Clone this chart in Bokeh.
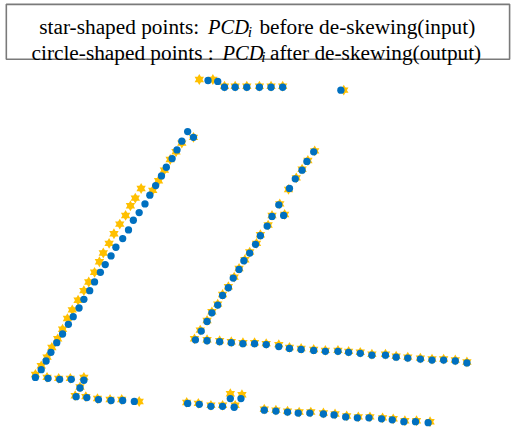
from bokeh.plotting import figure
from bokeh.models import ColumnDataSource, Range1d
from bokeh.core.properties import value
from bokeh.embed import file_html
from bokeh.resources import INLINE

# ---- data (point positions, pixel-like units, y downward) ----
# top short segment
top_star_x = [205, 219, 231, 242, 254, 267, 279, 291, 354]
top_star_y = [82, 82, 89, 89, 89, 89, 89, 89, 93]
top_circ_x = [214, 224, 231, 242, 254, 267, 279, 291, 351]
top_circ_y = [83, 84, 90, 90, 90, 90, 90, 90, 93]

# left long diagonal
left_circ_x = [193, 199, 187, 182, 177, 171, 166, 160, 154, 149, 143, 137, 132, 126, 119,
               114, 108, 103, 97, 92, 86, 81, 75, 70, 64, 58, 52, 47, 42, 36]
left_circ_y = [136, 142, 146, 155, 164, 173, 182, 192, 202, 211, 220, 228, 238, 247, 256,
               265, 274, 282, 292, 301, 310, 319, 328, 336, 346, 355, 365, 374, 383, 391]
left_star_x = [199, 187, 181, 175, 169, 163, 157, 145, 139, 134, 129, 123, 117, 112, 106,
               102, 97, 91, 86, 80, 74, 69, 64, 59, 53, 48, 42, 36]
left_star_y = [142, 148, 157, 165, 176, 187, 197, 195, 205, 213, 223, 232, 242, 252, 262,
               271, 282, 292, 301, 311, 321, 330, 341, 351, 360, 370, 379, 388]

# bottom-left step
bl_circ_x = [49, 61, 73, 86, 82, 78, 89, 101, 114, 126, 138]
bl_circ_y = [392, 393, 393, 394, 402, 411, 412, 414, 415, 415, 416]
bl_star_x = [48, 60, 72, 86, 82, 77, 88, 100, 113, 125, 143]
bl_star_y = [391, 392, 392, 391, 401, 410, 411, 413, 414, 414, 416]

# middle diagonal
md_circ_x = [323, 316, 311, 304, 298, 287, 292, 280, 275, 268, 263, 257, 251, 246, 240,
             235, 229, 224, 218, 213, 207, 201]
md_circ_y = [157, 167, 176, 185, 195, 212, 223, 224, 234, 244, 253, 262, 270, 279, 288,
             298, 306, 316, 324, 333, 343, 352]
md_star_x = [324, 317, 311, 305, 297, 288, 293, 280, 276, 268, 264, 257, 252, 246, 241,
             235, 229, 224, 218, 213, 206, 200]
md_star_y = [156, 166, 175, 184, 196, 211, 222, 223, 233, 243, 252, 261, 269, 278, 287,
             297, 305, 315, 323, 332, 342, 351]

# middle horizontal
mh_circ_x = [213, 226, 238, 250, 262, 274, 287, 298, 310, 323, 335, 348, 359, 371, 383,
             397, 408, 420, 433, 445, 457, 469, 481]
mh_circ_y = [353, 354, 355, 356, 356, 357, 359, 361, 362, 363, 364, 364, 365, 366, 368,
             368, 370, 371, 372, 373, 373, 374, 376]
mh_star_x = [213, 226, 238, 250, 262, 274, 287, 298, 310, 323, 335, 348, 359, 371, 383,
             397, 408, 420, 433, 445, 457, 469, 481]
mh_star_y = [352, 353, 354, 355, 355, 356, 357, 360, 361, 362, 363, 363, 364, 365, 367,
             367, 369, 370, 371, 372, 372, 373, 375]

# bottom cluster
br1_circ_x = [193, 205, 217, 229, 241, 237, 248]
br1_circ_y = [418, 419, 421, 421, 422, 413, 413]
br1_star_x = [192, 204, 217, 229, 242, 237, 249]
br1_star_y = [417, 418, 420, 420, 420, 408, 409]

# bottom-right line
br2_circ_x = [272, 284, 296, 307, 319, 333, 344, 356, 368, 380, 393, 404, 416, 428, 441]
br2_circ_y = [425, 426, 427, 428, 428, 429, 430, 432, 433, 433, 434, 435, 437, 437, 438]
br2_star_x = [272, 284, 296, 308, 320, 333, 345, 357, 369, 381, 394, 405, 417, 429, 443]
br2_star_y = [424, 425, 426, 427, 427, 428, 429, 431, 432, 432, 433, 434, 436, 436, 437]

# title text pieces
title_normal = ["star-shaped points:", "before de-skewing(input)",
                "circle-shaped points :", "after de-skewing(output)"]
title_math = ["PCD", "PCD"]
title_sub = ["i", "i"]

STAR_COLOR = "#FFC000"
CIRC_COLOR = "#0070C0"

star_x = top_star_x + left_star_x + bl_star_x + md_star_x + mh_star_x + br1_star_x + br2_star_x
star_y = top_star_y + left_star_y + bl_star_y + md_star_y + mh_star_y + br1_star_y + br2_star_y
circ_x = top_circ_x + left_circ_x + bl_circ_x + md_circ_x + mh_circ_x + br1_circ_x + br2_circ_x
circ_y = top_circ_y + left_circ_y + bl_circ_y + md_circ_y + mh_circ_y + br1_circ_y + br2_circ_y

p = figure(width=512, height=427, output_backend="svg", toolbar_location=None,
           x_range=Range1d(0, 528), y_range=Range1d(443, 0),
           min_border=0, min_border_left=0, min_border_right=0,
           min_border_top=0, min_border_bottom=0)
p.xaxis.visible = False
p.yaxis.visible = False
p.grid.visible = False
p.outline_line_color = None
p.background_fill_color = "white"
p.border_fill_color = "white"

# title box
p.quad(left=[6], right=[525], top=[4], bottom=[61], fill_color=None,
       line_color="#7a7a7a", line_width=1.6)

# title text
p.text(x=[40, 267, 32, 278], y=[28, 28, 54, 54], text=title_normal,
       text_font=value("Liberation Serif"), text_font_size="21.3px",
       text_baseline="alphabetic", text_align="left", text_color="black")
p.text(x=[214, 229], y=[28, 54], text=title_math,
       text_font=value("Liberation Serif"), text_font_size="20.5px",
       text_font_style="italic", text_baseline="alphabetic", text_align="left",
       text_color="black")
p.text(x=[255, 269], y=[32, 58], text=title_sub,
       text_font=value("Liberation Serif"), text_font_size="15.5px",
       text_font_style="italic", text_baseline="alphabetic", text_align="left",
       text_color="black")

# stars (six-pointed: two overlapping triangles)
ssrc = ColumnDataSource(dict(x=star_x, y=star_y))
p.scatter("x", "y", source=ssrc, marker="triangle", size=9.4,
          fill_color=STAR_COLOR, line_color=None)
p.scatter("x", "y", source=ssrc, marker="inverted_triangle", size=9.4,
          fill_color=STAR_COLOR, line_color=None)

# circles
csrc = ColumnDataSource(dict(x=circ_x, y=circ_y))
p.scatter("x", "y", source=csrc, marker="circle", size=7.3,
          fill_color=CIRC_COLOR, line_color=None)

open("out.html", "w").write(file_html(p, INLINE))
